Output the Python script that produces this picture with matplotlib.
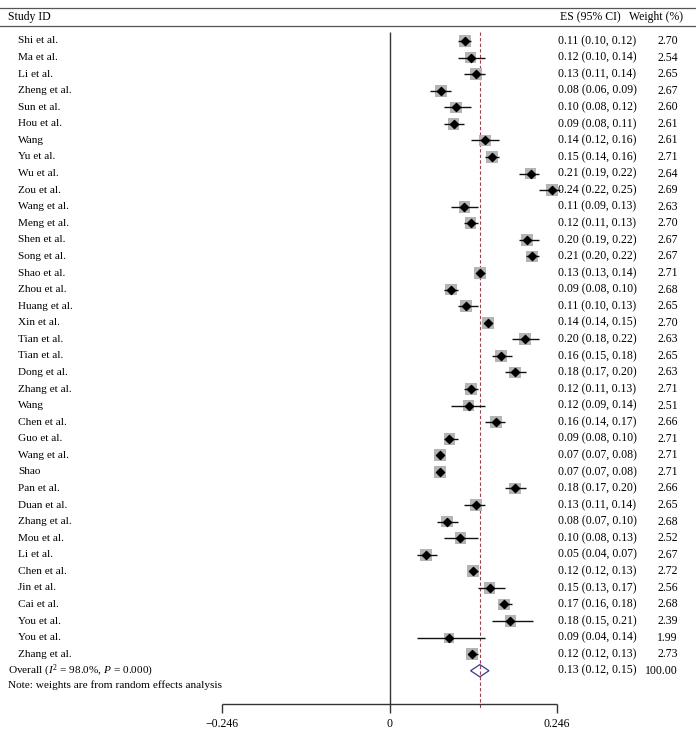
import numpy as np
import matplotlib
matplotlib.use('Agg')
import matplotlib.pyplot as plt

plt.rcParams['font.family'] = ['Liberation Serif', 'DejaVu Serif']
plt.rcParams['mathtext.fontset'] = 'custom'
plt.rcParams['mathtext.rm'] = 'Liberation Serif'
plt.rcParams['mathtext.it'] = 'Liberation Serif:italic'

studies = ['Shi et al.', 'Ma et al.', 'Li et al.', 'Zheng et al.', 'Sun et al.',
           'Hou et al.', 'Wang', 'Yu et al.', 'Wu et al.', 'Zou et al.',
           'Wang et al.', 'Meng et al.', 'Shen et al.', 'Song et al.', 'Shao et al.',
           'Zhou et al.', 'Huang et al.', 'Xin et al.', 'Tian et al.', 'Tian et al.',
           'Dong et al.', 'Zhang et al.', 'Wang', 'Chen et al.', 'Guo et al.',
           'Wang et al.', 'Shao', 'Pan et al.', 'Duan et al.', 'Zhang et al.',
           'Mou et al.', 'Li et al.', 'Chen et al.', 'Jin et al.', 'Cai et al.',
           'You et al.', 'You et al.', 'Zhang et al.']
es = [0.111, 0.119, 0.127, 0.076, 0.098, 0.094, 0.140, 0.151, 0.207, 0.238,
      0.110, 0.119, 0.202, 0.209, 0.133, 0.090, 0.112, 0.144, 0.199, 0.164,
      0.184, 0.120, 0.116, 0.156, 0.088, 0.074, 0.074, 0.184, 0.127, 0.084,
      0.104, 0.054, 0.123, 0.147, 0.168, 0.177, 0.087, 0.121]
lo = [0.10, 0.10, 0.11, 0.06, 0.08, 0.08, 0.12, 0.14, 0.19, 0.22,
      0.09, 0.11, 0.19, 0.20, 0.13, 0.08, 0.10, 0.14, 0.18, 0.15,
      0.17, 0.11, 0.09, 0.14, 0.08, 0.07, 0.07, 0.17, 0.11, 0.07,
      0.08, 0.04, 0.12, 0.13, 0.16, 0.15, 0.04, 0.12]
hi = [0.12, 0.14, 0.14, 0.09, 0.12, 0.11, 0.16, 0.16, 0.22, 0.25,
      0.13, 0.13, 0.22, 0.22, 0.14, 0.10, 0.13, 0.15, 0.22, 0.18,
      0.20, 0.13, 0.14, 0.17, 0.10, 0.08, 0.08, 0.20, 0.14, 0.10,
      0.13, 0.07, 0.13, 0.17, 0.18, 0.21, 0.14, 0.13]
weight = [2.70, 2.54, 2.65, 2.67, 2.60, 2.61, 2.61, 2.71, 2.64, 2.69,
          2.63, 2.70, 2.67, 2.67, 2.71, 2.68, 2.65, 2.70, 2.63, 2.65,
          2.63, 2.71, 2.51, 2.66, 2.71, 2.71, 2.71, 2.66, 2.65, 2.68,
          2.52, 2.67, 2.72, 2.56, 2.68, 2.39, 1.99, 2.73]
overall_es, overall_lo, overall_hi, overall_w = 0.1326, 0.119, 0.146, 100.00
xticks = [-0.246, 0, 0.246]
xtick_labels = ['\u22120.246', '0', '0.246']

n = len(studies)
y = np.arange(n)
fs = 8.5    # numbers, headers
fl = 8.1    # study names, notes

fig = plt.figure(figsize=(6.96, 7.38), dpi=100)
ax = fig.add_axes([0, 0, 1, 1])
ax.set_xlim(-0.572, 0.450)
ax.set_ylim(42.06, -2.474)
ax.axis('off')
yt = ax.get_yaxis_transform()

# header rules
ax.axhline(-1.99, color='#555555', lw=0.9)
ax.axhline(-0.905, color='#555555', lw=0.9)
ax.text(0.011, -1.45, 'Study ID', transform=yt, fontsize=fs, va='center')
ax.text(0.892, -1.45, 'ES (95% CI)', transform=yt, fontsize=fs, va='center', ha='right')
ax.text(0.981, -1.45, 'Weight (%)', transform=yt, fontsize=fs, va='center', ha='right')

# null line, overall line, axis
ax.vlines(0, -0.54, 40.0, color='#333333', lw=1.0)
ax.vlines(overall_es, -0.54, 40.3, color='#a0404f', lw=0.8, linestyles=(0, (3, 2)))
ax.hlines(40.0, xticks[0], xticks[-1], color='#333333', lw=1.0)
for t, lab in zip(xticks, xtick_labels):
    ax.vlines(t, 40.0, 40.55, color='#333333', lw=1.0)
    ax.text(t, 41.2, lab, fontsize=fs, ha='center', va='center')

# studies
ax.scatter(es, y, marker='s', s=[72 * w / 2.7 for w in weight], color='#b4b4b4',
           linewidths=0, zorder=2)
ax.hlines(y, lo, hi, color='#111111', lw=1.0, zorder=3)
ax.scatter(es, y, marker='D', s=17, color='black', zorder=4)

for i in range(n):
    ax.text(0.026, y[i], studies[i], transform=yt, fontsize=fl, va='center')
    ax.text(0.802, y[i], f'{es[i]:.2f} ({lo[i]:.2f}, {hi[i]:.2f})', transform=yt,
            fontsize=fs, va='center')
    ax.text(0.974, y[i], f'{weight[i]:.2f}', transform=yt, fontsize=fs,
            va='center', ha='right')

# overall
yo = n
h = 0.37
ax.fill([overall_lo, overall_es, overall_hi, overall_es],
        [yo, yo - h, yo, yo + h], facecolor='none', edgecolor='#3a3a8c', lw=0.9,
        zorder=4)
ax.text(0.011, yo, 'Overall ($I^2$ = 98.0%, $P$ = 0.000)', transform=yt,
        fontsize=fl, va='center')
ax.text(0.802, yo, f'{overall_es:.2f} ({overall_lo:.2f}, {overall_hi:.2f})',
        transform=yt, fontsize=fs, va='center')
ax.text(0.974, yo, f'{overall_w:.2f}', transform=yt, fontsize=fs,
        va='center', ha='right')
ax.text(0.011, yo + 0.85, 'Note: weights are from random effects analysis',
        transform=yt, fontsize=fl, va='center')

fig.savefig('out.png', dpi=100)
